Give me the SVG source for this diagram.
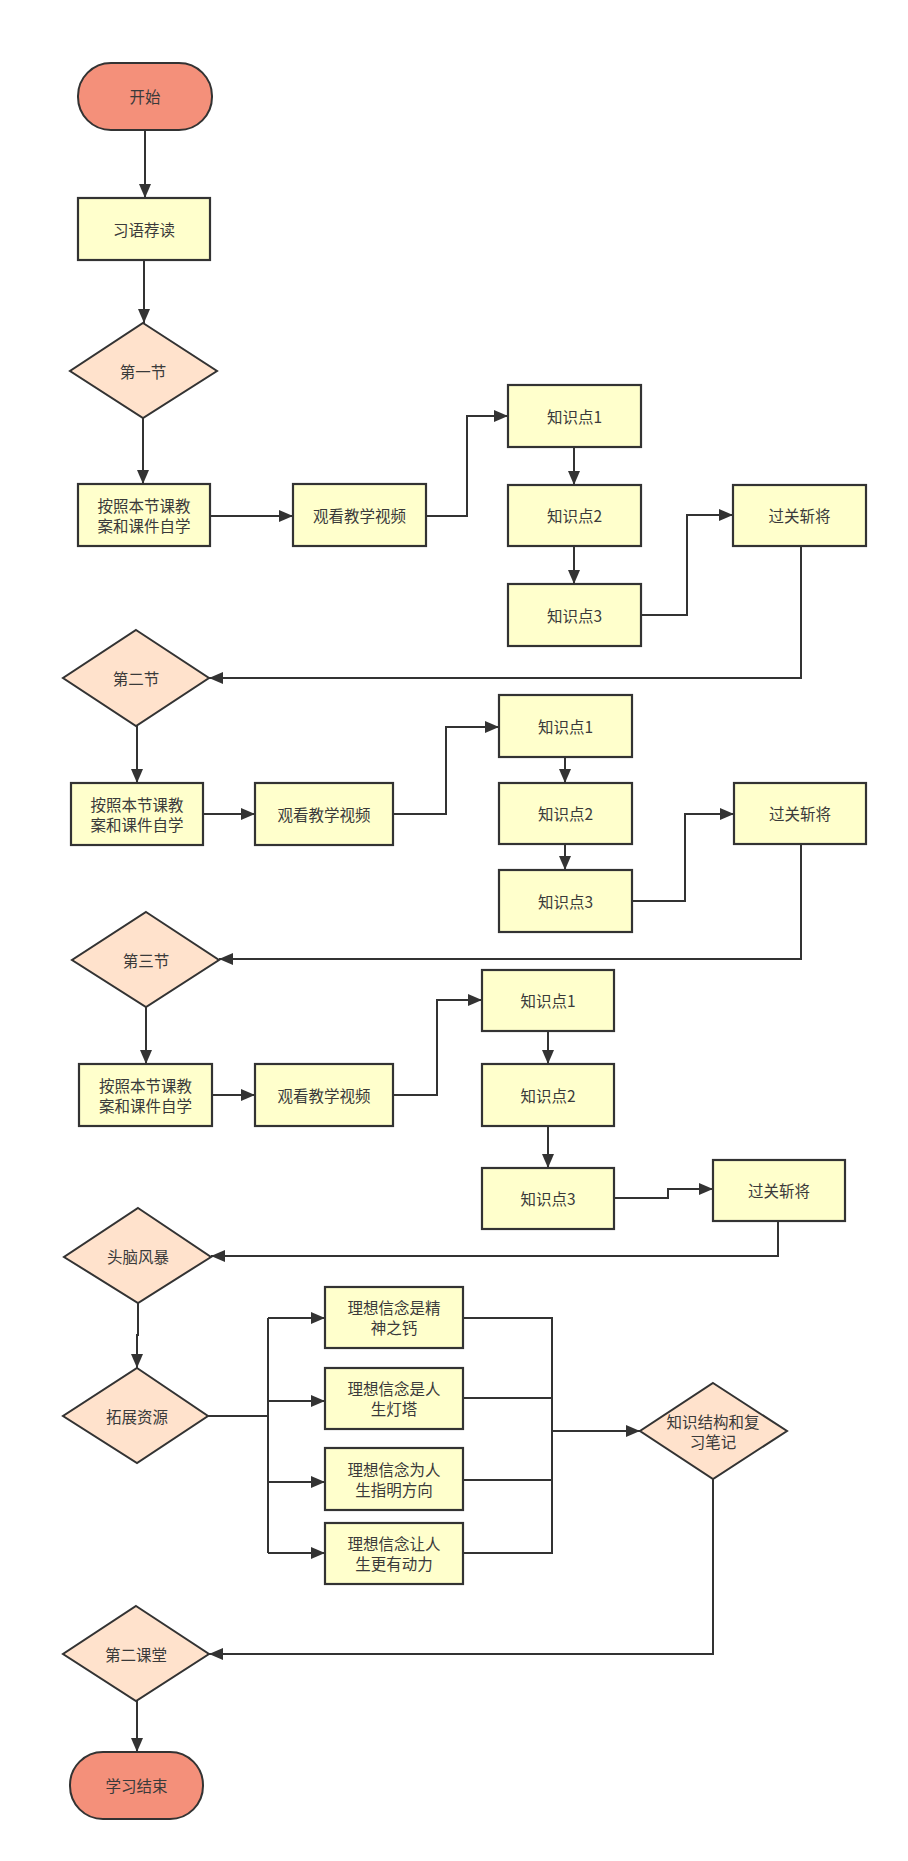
<svg xmlns="http://www.w3.org/2000/svg" width="908" height="1861" viewBox="0 0 908 1861">
<style>
.t{fill:#f4907a;stroke:#333;stroke-width:2}
.r{fill:#ffffcc;stroke:#333;stroke-width:2.2}
.d{fill:#ffe2cc;stroke:#333;stroke-width:2}
.c{fill:none;stroke:#333;stroke-width:2}
text{font-family:"Noto Sans CJK SC","Liberation Sans",sans-serif;font-size:15.5px;fill:#3a3a3a;text-anchor:middle;dominant-baseline:central}
</style>
<defs>
<marker id="a" markerUnits="userSpaceOnUse" markerWidth="14" markerHeight="12" refX="14" refY="6" orient="auto">
<path d="M0,0 L14,6 L0,12 z" fill="#333"/>
</marker>
</defs>
<rect width="908" height="1861" fill="#fff"/>
<g id="connectors">
<path class="c" d="M145,130 V198" marker-end="url(#a)"/>
<path class="c" d="M144,260 V323" marker-end="url(#a)"/>
<path class="c" d="M143,418 V484" marker-end="url(#a)"/>
<path class="c" d="M210,516 H293" marker-end="url(#a)"/>
<path class="c" d="M426,516 H467 V416 H508" marker-end="url(#a)"/>
<path class="c" d="M574,447 V485" marker-end="url(#a)"/>
<path class="c" d="M574,546 V584" marker-end="url(#a)"/>
<path class="c" d="M641,615 H687 V515 H733" marker-end="url(#a)"/>
<path class="c" d="M801,546 V678 H209" marker-end="url(#a)"/>
<path class="c" d="M137,726 V783" marker-end="url(#a)"/>
<path class="c" d="M203,814 H255" marker-end="url(#a)"/>
<path class="c" d="M393,814 H446 V727 H499" marker-end="url(#a)"/>
<path class="c" d="M565,757 V783" marker-end="url(#a)"/>
<path class="c" d="M565,844 V870" marker-end="url(#a)"/>
<path class="c" d="M632,901 H685 V814 H734" marker-end="url(#a)"/>
<path class="c" d="M801,844 V959 H219" marker-end="url(#a)"/>
<path class="c" d="M146,1007 V1064" marker-end="url(#a)"/>
<path class="c" d="M212,1095 H255" marker-end="url(#a)"/>
<path class="c" d="M393,1095 H437 V1000 H482" marker-end="url(#a)"/>
<path class="c" d="M548,1031 V1064" marker-end="url(#a)"/>
<path class="c" d="M548,1126 V1168" marker-end="url(#a)"/>
<path class="c" d="M614,1198 H668 V1189 H713" marker-end="url(#a)"/>
<path class="c" d="M778,1221 V1256 H211" marker-end="url(#a)"/>
<path class="c" d="M138,1303 V1335 H137 V1368" marker-end="url(#a)"/>
<path class="c" d="M208,1416 H268"/>
<path class="c" d="M268,1318 V1553"/>
<path class="c" d="M268,1318 H325" marker-end="url(#a)"/>
<path class="c" d="M268,1401 H325" marker-end="url(#a)"/>
<path class="c" d="M268,1482 H325" marker-end="url(#a)"/>
<path class="c" d="M268,1553 H325" marker-end="url(#a)"/>
<path class="c" d="M463,1318 H552 V1553 H463"/>
<path class="c" d="M463,1398 H552"/>
<path class="c" d="M463,1480 H552"/>
<path class="c" d="M552,1431 H640" marker-end="url(#a)"/>
<path class="c" d="M713,1479 V1654 H209" marker-end="url(#a)"/>
<path class="c" d="M137,1701 V1752" marker-end="url(#a)"/>
</g>
<g id="start"><rect class="t" x="78" y="63" width="134" height="67" rx="33"/><text x="145" y="96">开始</text></g>
<g id="xiyu"><rect class="r" x="78" y="198" width="132" height="62"/><text x="144" y="229">习语荐读</text></g>
<g id="sec1"><polygon class="d" points="143,323 217,371 143,418 70,371"/><text x="143" y="371">第一节</text></g>
<g id="self1"><rect class="r" x="78" y="484" width="132" height="62"/><text x="144" y="505">按照本节课教</text><text x="144" y="525">案和课件自学</text></g>
<g id="video1"><rect class="r" x="293" y="484" width="133" height="62"/><text x="359.5" y="515">观看教学视频</text></g>
<g id="k11"><rect class="r" x="508" y="385" width="133" height="62"/><text x="574.5" y="416">知识点1</text></g>
<g id="k12"><rect class="r" x="508" y="485" width="133" height="61"/><text x="574.5" y="515">知识点2</text></g>
<g id="k13"><rect class="r" x="508" y="584" width="133" height="62"/><text x="574.5" y="615">知识点3</text></g>
<g id="pass1"><rect class="r" x="733" y="485" width="133" height="61"/><text x="799.5" y="515">过关斩将</text></g>
<g id="sec2"><polygon class="d" points="136,630 209,678 136,726 63,678"/><text x="136" y="678">第二节</text></g>
<g id="self2"><rect class="r" x="71" y="783" width="132" height="62"/><text x="137" y="804">按照本节课教</text><text x="137" y="824">案和课件自学</text></g>
<g id="video2"><rect class="r" x="255" y="783" width="138" height="62"/><text x="324" y="814">观看教学视频</text></g>
<g id="k21"><rect class="r" x="499" y="695" width="133" height="62"/><text x="565.5" y="726">知识点1</text></g>
<g id="k22"><rect class="r" x="499" y="783" width="133" height="61"/><text x="565.5" y="813">知识点2</text></g>
<g id="k23"><rect class="r" x="499" y="870" width="133" height="62"/><text x="565.5" y="901">知识点3</text></g>
<g id="pass2"><rect class="r" x="734" y="783" width="132" height="61"/><text x="800" y="813">过关斩将</text></g>
<g id="sec3"><polygon class="d" points="146,912 219,960 146,1007 72,960"/><text x="146" y="960">第三节</text></g>
<g id="self3"><rect class="r" x="79" y="1064" width="133" height="62"/><text x="145.5" y="1085">按照本节课教</text><text x="145.5" y="1105">案和课件自学</text></g>
<g id="video3"><rect class="r" x="255" y="1064" width="138" height="62"/><text x="324" y="1095">观看教学视频</text></g>
<g id="k31"><rect class="r" x="482" y="970" width="132" height="61"/><text x="548" y="1000">知识点1</text></g>
<g id="k32"><rect class="r" x="482" y="1064" width="132" height="62"/><text x="548" y="1095">知识点2</text></g>
<g id="k33"><rect class="r" x="482" y="1168" width="132" height="61"/><text x="548" y="1198">知识点3</text></g>
<g id="pass3"><rect class="r" x="713" y="1160" width="132" height="61"/><text x="779" y="1190">过关斩将</text></g>
<g id="brain"><polygon class="d" points="138,1208 211,1257 138,1303 64,1257"/><text x="138" y="1256">头脑风暴</text></g>
<g id="expand"><polygon class="d" points="137,1368 208,1416 137,1463 63,1416"/><text x="137" y="1416">拓展资源</text></g>
<g id="b1"><rect class="r" x="325" y="1287" width="138" height="61"/><text x="394" y="1307">理想信念是精</text><text x="394" y="1327">神之钙</text></g>
<g id="b2"><rect class="r" x="325" y="1368" width="138" height="61"/><text x="394" y="1388">理想信念是人</text><text x="394" y="1408">生灯塔</text></g>
<g id="b3"><rect class="r" x="325" y="1448" width="138" height="62"/><text x="394" y="1469">理想信念为人</text><text x="394" y="1489">生指明方向</text></g>
<g id="b4"><rect class="r" x="325" y="1523" width="138" height="61"/><text x="394" y="1543">理想信念让人</text><text x="394" y="1563">生更有动力</text></g>
<g id="notes"><polygon class="d" points="713,1383 787,1431 713,1479 640,1431"/><text x="713" y="1421">知识结构和复</text><text x="713" y="1441">习笔记</text></g>
<g id="class2"><polygon class="d" points="136,1606 209,1654 136,1701 63,1654"/><text x="136" y="1654">第二课堂</text></g>
<g id="end"><rect class="t" x="70" y="1752" width="133" height="67" rx="33"/><text x="136.5" y="1785">学习结束</text></g>
</svg>
